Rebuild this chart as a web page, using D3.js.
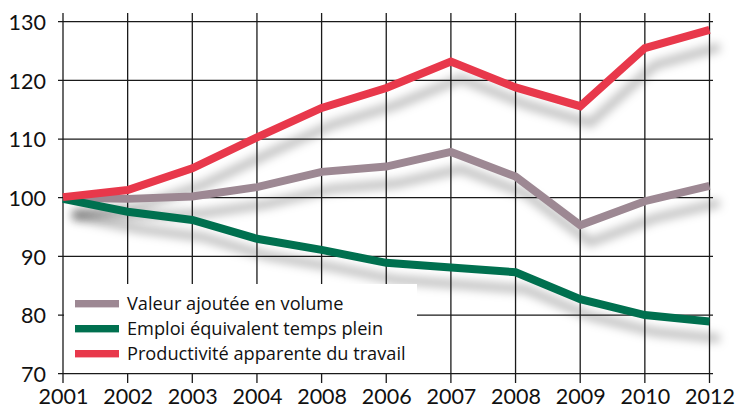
<!DOCTYPE html>
<html><head><meta charset="utf-8">
<script src="https://cdn.jsdelivr.net/npm/d3@7"></script>
<style>
html,body{margin:0;padding:0;background:#fff;}
svg{display:block;font-family:Lato, "Open Sans", sans-serif;}
</style></head>
<body>
<svg id="chart" width="735" height="410"></svg>
<script>
const xLabels = ["2001","2002","2003","2004","2008","2006","2007","2008","2009","2010","2012"];
const yTicks = [70, 80, 90, 100, 110, 120, 130];
const seriesNames = ["Valeur ajoutée en volume", "Emploi équivalent temps plein", "Productivité apparente du travail"];
const valeurAjoutee = [100, 99.8, 100.2, 101.8, 104.4, 105.3, 107.8, 103.6, 95.3, 99.4, 102];
const emploi = [99.8, 97.6, 96.2, 93.0, 91.1, 88.9, 88.1, 87.3, 82.7, 80.0, 78.9];
const productivite = [100.1, 101.3, 105.0, 110.3, 115.3, 118.7, 123.2, 118.8, 115.6, 125.5, 128.6];
const colors = ["#9d8893", "#00704f", "#e8384b"];

const svg = d3.select("#chart");
const x = d3.scaleLinear().domain([0, xLabels.length - 1]).range([63, 709.5]);
const y = d3.scaleLinear().domain([70, 130]).range([373.7, 21.7]);

const defs = svg.append("defs");
const f = defs.append("filter").attr("id","sh").attr("x","-20%").attr("y","-50%").attr("width","140%").attr("height","200%");
f.append("feGaussianBlur").attr("in","SourceAlpha").attr("stdDeviation",5).attr("result","b");
f.append("feOffset").attr("in","b").attr("dx",10).attr("dy",17).attr("result","o");
f.append("feFlood").attr("flood-color","#000").attr("flood-opacity",0.27).attr("result","c");
f.append("feComposite").attr("in","c").attr("in2","o").attr("operator","in");

const data = [valeurAjoutee, emploi, productivite];
const line = d3.line().x((d,i)=>x(i)).y(d=>y(d));

// shadows
svg.append("g").selectAll("path").data(data).join("path")
  .attr("d", line).attr("fill","none").attr("stroke","#000").attr("stroke-width",8)
  .attr("filter","url(#sh)");

// grid
const grid = svg.append("g").attr("stroke","#1a1a1a").attr("stroke-width",1.3);
grid.selectAll("line.h").data(yTicks).join("line").attr("class","h")
  .attr("x1",58).attr("x2",713).attr("y1",d=>y(d)).attr("y2",d=>y(d));
grid.selectAll("line.v").data(xLabels).join("line").attr("class","v")
  .attr("x1",(d,i)=>x(i)).attr("x2",(d,i)=>x(i)).attr("y1",13).attr("y2",383);

// axes labels via d3 axes
const yAxis = d3.axisLeft(y).tickValues(yTicks).tickSize(0).tickPadding(0);
const gy = svg.append("g").attr("transform","translate(46,0)").call(yAxis);
gy.select(".domain").remove();
gy.selectAll("text").attr("font-size",21.5).attr("fill","#111").attr("dy","0.36em")
  .style("font-family","Lato, sans-serif");

const xAxis = d3.axisBottom(x).tickValues(d3.range(xLabels.length)).tickFormat(i=>xLabels[i]).tickSize(0).tickPadding(0);
const gx = svg.append("g").attr("transform","translate(0,389)").call(xAxis);
gx.select(".domain").remove();
gx.selectAll("text").attr("font-size",21.5).attr("fill","#111").attr("dy","0.71em")
  .style("font-family","Lato, sans-serif");

// lines
svg.append("g").selectAll("path").data(data).join("path")
  .attr("d", line).attr("fill","none").attr("stroke",(d,i)=>colors[i]).attr("stroke-width",8)
  .attr("stroke-linejoin","miter");

// legend
svg.append("rect").attr("x",64).attr("y",284).attr("width",353).attr("height",89).attr("fill","#fff");
const lg = svg.append("g");
seriesNames.forEach((n,i)=>{
  const cy = 303.7 + i*25;
  lg.append("rect").attr("x",75).attr("y",cy-3.7).attr("width",44).attr("height",7.4).attr("fill",colors[i]);
  lg.append("text").attr("x",127).attr("y",cy).attr("dy","0.36em").attr("font-size",18.2)
    .style("font-family","'Open Sans', sans-serif").attr("fill","#111").text(n);
});
</script>
</body></html>
